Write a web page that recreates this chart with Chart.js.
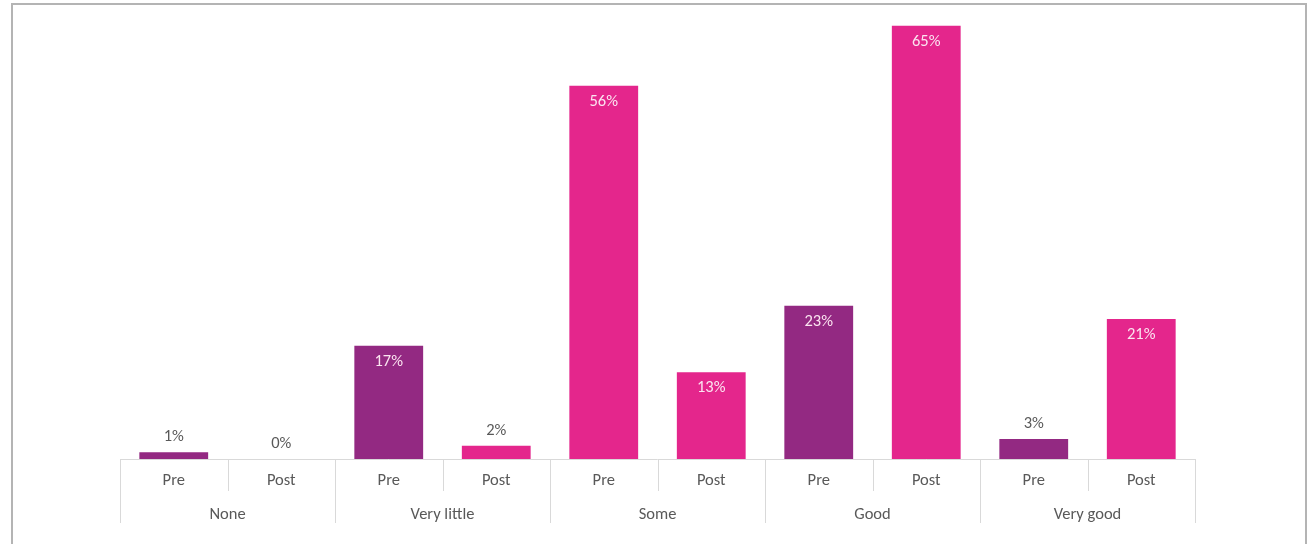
<!DOCTYPE html>
<html>
<head>
<meta charset="utf-8">
<script src="https://cdn.jsdelivr.net/npm/chart.js@4.4.1/dist/chart.umd.min.js"></script>
<style>
    html, body { margin: 0; padding: 0; background: #fff; }
    #wrap { position: relative; width: 1310px; height: 544px; }
    #frame {
        position: absolute; left: 11px; top: 3px; width: 1292px; height: 539px;
        border-left: 2px solid #b4b4b4; border-top: 2px solid #b4b4b4;
        border-right: 2px solid #b4b4b4; border-bottom: 1px solid #e2e2e2;
        pointer-events: none;
    }
    canvas { position: absolute; left: 0; top: 0; }
</style>
</head>
<body>
<div id="wrap">
    <canvas id="stat-level" width="1310" height="544"></canvas>
    <div id="frame"></div>
</div>

<script>
// survey answers, before and after
const groups = ['None', 'Very little', 'Some', 'Good', 'Very good'];
const phases = ['Pre', 'Post'];
const values = [1, 0, 17, 2, 56, 13, 23, 65, 3, 21];

const PURPLE = '#932982';
const PINK = '#e4268c';
const barColors = [PURPLE, PINK, PURPLE, PINK, PINK, PINK, PURPLE, PINK, PURPLE, PINK];

const FONT = 'Carlito, Lato, "Open Sans", sans-serif';
const FONT_SIZE = 16.5;
const TEXT = '#595959';
const LINE = '#d9d9d9';

const labels = [];
groups.forEach(function() { phases.forEach(function(p) { labels.push(p); }); });

// percentage on each bar: inside when tall enough, above otherwise
const valueLabels = {
    id: 'valueLabels',
    afterDatasetsDraw: function(chart) {
        const ctx = chart.ctx;
        const meta = chart.getDatasetMeta(0);
        ctx.save();
        ctx.font = FONT_SIZE + 'px ' + FONT;
        ctx.textAlign = 'center';
        ctx.textBaseline = 'middle';
        meta.data.forEach(function(bar, i) {
            const v = values[i];
            if (v >= 10) {
                ctx.fillStyle = '#fbe4f0';
                ctx.fillText(v + '%', bar.x, bar.y + 16);
            } else {
                ctx.fillStyle = TEXT;
                ctx.fillText(v + '%', bar.x, bar.y - 15);
            }
        });
        ctx.restore();
    }
};

// two-level category axis: baseline, divider lines and group names
const groupAxis = {
    id: 'groupAxis',
    afterDraw: function(chart) {
        const ctx = chart.ctx;
        const x = chart.scales.x;
        const base = chart.chartArea.bottom;
        const step = x.getPixelForValue(1) - x.getPixelForValue(0);
        ctx.save();
        ctx.strokeStyle = LINE;
        ctx.lineWidth = 1;
        ctx.beginPath();
        ctx.moveTo(x.left, base + 0.5);
        ctx.lineTo(x.right, base + 0.5);
        for (let i = 0; i <= labels.length; i++) {
            const px = Math.round(x.getPixelForValue(0) - step / 2 + i * step) + 0.5;
            ctx.moveTo(px, base);
            ctx.lineTo(px, base + (i % 2 === 0 ? 64 : 32));
        }
        ctx.stroke();

        ctx.font = FONT_SIZE + 'px ' + FONT;
        ctx.fillStyle = TEXT;
        ctx.textAlign = 'center';
        ctx.textBaseline = 'middle';
        groups.forEach(function(g, i) {
            const cx = (x.getPixelForValue(i * 2) + x.getPixelForValue(i * 2 + 1)) / 2;
            ctx.fillText(g, cx, base + 56);
        });
        ctx.restore();
    }
};

const chart = new Chart(document.getElementById('stat-level').getContext('2d'), {
    type: 'bar',
    data: {
        labels: labels,
        datasets: [{
            data: values,
            backgroundColor: barColors,
            borderWidth: 0,
            categoryPercentage: 1,
            barPercentage: 0.64
        }]
    },
    options: {
        responsive: false,
        animation: false,
        layout: { padding: { left: 120, right: 115, top: 19, bottom: 0 } },
        plugins: {
            legend: { display: false },
            tooltip: { enabled: false }
        },
        scales: {
            x: {
                grid: { display: false },
                border: { display: false },
                ticks: {
                    color: TEXT,
                    font: { family: FONT, size: FONT_SIZE },
                    padding: 4,
                    maxRotation: 0,
                    autoSkip: false
                },
                afterFit: function(scale) { scale.height = 85; }
            },
            y: {
                display: false,
                min: 0,
                max: 66
            }
        }
    },
    plugins: [valueLabels, groupAxis]
});
</script>
</body>
</html>
